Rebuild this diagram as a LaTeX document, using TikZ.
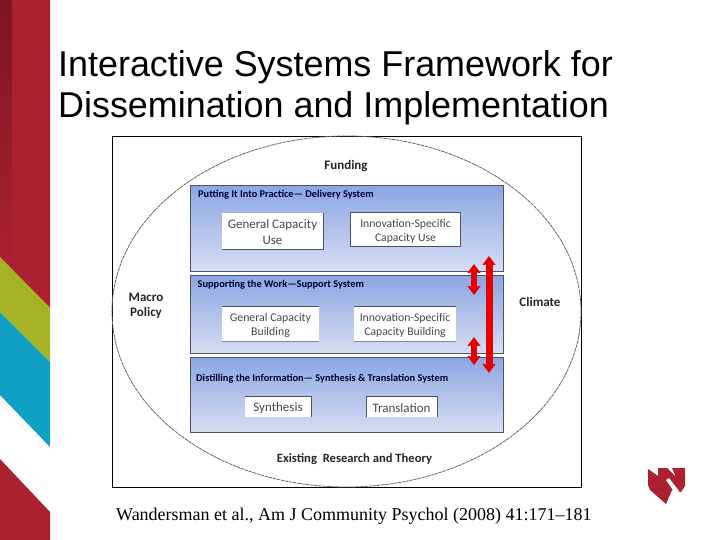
\documentclass[tikz,border=0pt]{standalone}
\usepackage{fontspec}
\setmainfont{Liberation Sans}
\newfontfamily\carl{Carlito}
\newfontfamily\tms{Liberation Serif}
\usetikzlibrary{arrows.meta}
\definecolor{nured}{HTML}{AB2130}
\definecolor{nudark}{HTML}{7D1526}
\definecolor{nugreen}{HTML}{A5B425}
\definecolor{nublue}{HTML}{0FA0C4}
\definecolor{paneltop}{HTML}{8CA6E2}
\definecolor{panelbot}{HTML}{D6DEF4}
\definecolor{paneledge}{HTML}{4A5568}
\newcommand\dn{\rule{0pt}{12pt}}
\tikzset{
  panel/.style={draw=paneledge,line width=0.7pt,top color=paneltop,bottom color=panelbot},
  whitebox/.style={draw=none,fill=white,inner sep=0pt,align=center,font=\carl\fontsize{13}{16}\selectfont,text=black!72},
  paneltitle/.style={anchor=west,inner sep=0pt,font=\carl\bfseries\fontsize{10.35}{12}\selectfont,text=black!80!blue},
  outerlabel/.style={inner sep=0pt,align=center,font=\carl\bfseries\fontsize{13}{15.5}\selectfont,text=black!85},
  title/.style={anchor=west,inner sep=0pt,font=\fontsize{35.9}{41}\selectfont,align=left},
  redarrow/.style={draw=red!90!black,line width=#1,{Stealth[length=9pt,width=13pt,inset=1pt,fill=red!90!black]}-{Stealth[length=9pt,width=13pt,inset=1pt,fill=red!90!black]}},
}
\begin{document}
\begin{tikzpicture}[x=1pt,y=-1pt]
\useasboundingbox (0,0) rectangle (720,540);
\fill[white] (0,0) rectangle (720,540);
% side band
\fill[nured] (0,0) -- (50,0) -- (50,308) -- (0,257) -- cycle;
\shade[top color=nudark,bottom color=nured,draw=none] (0,0) -- (12,0) -- (12,269) -- (0,257) -- cycle;
\fill[nugreen] (0,257) -- (50,308) -- (50,362) -- (0,312) -- cycle;
\fill[nublue] (0,312) -- (50,362) -- (50,447) -- (0,395) -- cycle;
\fill[nured] (0,459) -- (50,512) -- (50,540) -- (0,540) -- cycle;
% title
\node[title] (ttl) at (58,87.5) {Interactive Systems Framework for\\Dissemination and Implementation};
% frame
\node[draw=black,line width=0.8pt,fill=white,minimum width=469pt,minimum height=351pt,inner sep=0pt] (frame) at (346.5,311.5) {};
\draw[black!60,line width=0.8pt,dash pattern=on 3.5pt off 0.7pt] (346.5,311.5) ellipse [x radius=234.5,y radius=175.5];
% panels
\node[panel,minimum width=313pt,minimum height=85.5pt,inner sep=0pt] (p1) at (346.5,228.5) {};
\node[panel,minimum width=313pt,minimum height=77.5pt,inner sep=0pt] (p2) at (346.5,314.5) {};
\node[panel,minimum width=313pt,minimum height=75pt,inner sep=0pt] (p3) at (346.5,394.5) {};
\node[paneltitle] (t1) at (198,195) {Putting It Into Practice— Delivery System};
\node[paneltitle] (t2) at (197.5,285) {Supporting the Work—Support System};
\node[paneltitle] (t3) at (196,379) {Distilling the Information— Synthesis \& Translation System};
% white boxes
\node[whitebox,minimum width=101pt,minimum height=36pt] (b1) at (272.5,231) {\dn General Capacity\\Use};
\node[whitebox,minimum width=110pt,minimum height=33pt,font=\carl\fontsize{11.7}{14.8}\selectfont] (b2) at (405.5,229.5) {\dn Innovation-Specific\\Capacity Use};
\node[whitebox,minimum width=97pt,minimum height=35pt,font=\carl\fontsize{11.8}{14.2}\selectfont] (b3) at (270.5,323.5) {\dn General Capacity\\Building};
\node[whitebox,minimum width=102pt,minimum height=35pt,font=\carl\fontsize{11.7}{14.2}\selectfont] (b4) at (405,323.5) {\dn Innovation-Specific\\Capacity Building};
\node[whitebox,minimum width=66pt,minimum height=21pt] (b5) at (278,406.5) {\dn Synthesis};
\node[whitebox,minimum width=71pt,minimum height=21pt] (b6) at (401.5,406.5) {\dn Translation};
\draw[paneledge,line width=0.6pt] (b1.south west) -- (b1.south east) -- (b1.north east);
\draw[paneledge,line width=0.6pt] (b2.north west) rectangle (b2.south east);
\draw[paneledge!70,line width=0.8pt] (b3.south west) -- (b3.south east);
\draw[paneledge,line width=0.5pt] (b3.north west) -- (b3.north east);
\draw[paneledge!70,line width=0.8pt] (b4.south west) -- (b4.south east);
\draw[paneledge,line width=0.5pt] (b4.north west) -- (b4.north east);
\draw[paneledge,line width=0.6pt] (b5.south east) -- (b5.north east) -- (b5.north west);
\draw[paneledge,line width=0.6pt] (b6.south east) -- (b6.north east) -- (b6.north west) -- (b6.south west);
% outer labels
\node[outerlabel] (fund) at (346,166) {Funding};
\node[outerlabel] (macro) at (146,306) {Macro\\Policy};
\node[outerlabel] (clim) at (540,302) {Climate};
\node[outerlabel,font=\carl\bfseries\fontsize{12.6}{14}\selectfont] (exist) at (354.5,459) {Existing\hspace{3pt} Research and Theory};
% arrows
\coordinate (a1t) at (474,264);
\coordinate (a1b) at (474,295);
\coordinate (a2t) at (474,337);
\coordinate (a2b) at (474,365);
\coordinate (a3t) at (489,256);
\coordinate (a3b) at (489,373);
\draw[redarrow=5.5pt] (a1t) -- (a1b);
\draw[redarrow=5.5pt] (a2t) -- (a2b);
\draw[redarrow=7pt] (a3t) -- (a3b);
% citation
\node[anchor=west,inner sep=0pt,font=\tms\fontsize{18}{20}\selectfont] (cite) at (116,516.5) {Wandersman et al., Am J Community Psychol (2008) 41:171–181};
% logo
\fill[nured] (648,469) -- (658,476) -- (658,468) -- (667,468) -- (676,477) -- (672,468) -- (685,468) -- (685,486) -- (681,492) -- (672,490) -- (666,504) -- (650,490) -- (648,485) -- cycle;
\fill[white] (666,480) -- (669,478) -- (679,491) -- (675,493) -- cycle;
\end{tikzpicture}
\end{document}
